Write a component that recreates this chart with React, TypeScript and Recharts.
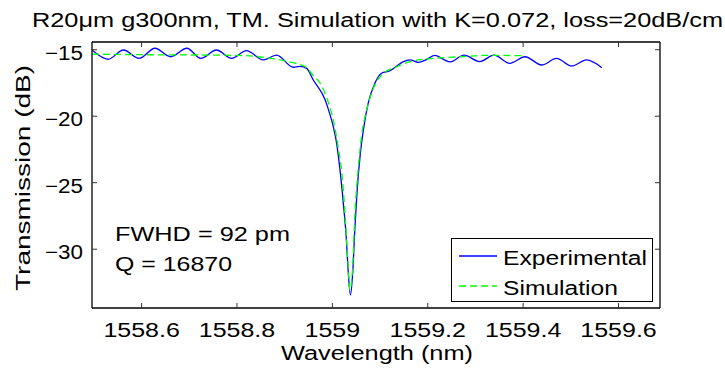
import { LineChart, Line, XAxis, YAxis, Legend, Customized } from 'recharts';

const FONT = '"Liberation Sans", Arial, Helvetica, sans-serif';

// measured ring resonance (blue) and fitted simulation (green)
const expWavelength = [
  1558.496, 1558.53, 1558.562, 1558.595, 1558.628, 1558.661, 1558.695, 1558.724, 1558.757, 1558.789,
  1558.82, 1558.855, 1558.883, 1558.918, 1558.932, 1558.946, 1558.96, 1558.985, 1558.991, 1559.002,
  1559.009, 1559.016, 1559.023, 1559.029, 1559.033, 1559.038, 1559.043, 1559.047, 1559.052, 1559.058,
  1559.065, 1559.075, 1559.089, 1559.103, 1559.121, 1559.135, 1559.149, 1559.163, 1559.18, 1559.198,
  1559.215, 1559.233, 1559.247, 1559.276, 1559.309, 1559.339, 1559.372, 1559.404, 1559.439, 1559.47,
  1559.502, 1559.533, 1559.565,
];
const expTransmission = [
  -15.02, -15.72, -15.02, -15.65, -14.89, -15.53, -14.89, -15.65, -15.02, -15.65,
  -15.07, -15.77, -15.4, -16.32, -16.26, -16.4, -17.28, -18.78, -19.41, -20.79,
  -22.04, -24.04, -26.55, -29.06, -31.56, -33.44, -31.56, -28.56, -25.55, -23.04,
  -21.04, -19.03, -17.53, -16.77, -16.58, -16.22, -15.9, -15.77, -15.95, -15.72,
  -15.42, -15.72, -15.92, -15.41, -15.89, -15.41, -16.02, -15.53, -16.15, -15.65,
  -16.22, -15.77, -16.35,
];
const simWavelength = [
  1558.496, 1558.618, 1558.722, 1558.806, 1558.862, 1558.901, 1558.925, 1558.946, 1558.96, 1558.974,
  1558.991, 1559.002, 1559.012, 1559.02, 1559.026, 1559.032, 1559.037, 1559.043, 1559.047, 1559.054,
  1559.061, 1559.072, 1559.086, 1559.107, 1559.135, 1559.163, 1559.212, 1559.268, 1559.323, 1559.4,
];
const simTransmission = [
  -15.33, -15.38, -15.4, -15.43, -15.6, -15.85, -16.05, -16.35, -16.95, -17.5,
  -18.9, -20.28, -22.29, -24.29, -27.05, -30.56, -33.07, -31.06, -27.56, -24.04,
  -21.54, -19.53, -17.9, -16.77, -16.28, -15.9, -15.65, -15.53, -15.42, -15.45,
];

const xTicks = [1558.6, 1558.8, 1559, 1559.2, 1559.4, 1559.6];
const yTicks = [-30, -25, -20, -15];
const xDomain = [1558.496, 1559.687];
const yDomain = [-34.42, -14.42];

const expData = expWavelength.map((x, i) => ({ x, y: expTransmission[i] }));
const simData = simWavelength.map((x, i) => ({ x, y: simTransmission[i] }));

const TICK_COLOR = '#333';

function BottomTick({ x, y, payload }: any) {
  return (
    <g>
      <line x1={x} y1={y} x2={x} y2={y - 5} stroke={TICK_COLOR} />
      <text
        transform={`translate(${x} ${y + 29}) scale(1.25 1)`}
        textAnchor="middle"
        fontFamily={FONT}
        fontSize={20}
        fill="#000"
      >
        {String(payload.value)}
      </text>
    </g>
  );
}

function TopTick({ x, y }: any) {
  return <line x1={x} y1={y} x2={x} y2={y + 5} stroke={TICK_COLOR} />;
}

function LeftTick({ x, y, payload }: any) {
  return (
    <g>
      <line x1={x} y1={y} x2={x + 5} y2={y} stroke={TICK_COLOR} />
      <text
        x={x - 9}
        y={y + 10}
        textAnchor="end"
        fontFamily={FONT}
        fontSize={20}
        fill="#000"
        textLength={38}
        lengthAdjust="spacingAndGlyphs"
      >
        {String(payload.value).replace('-', '\u2212')}
      </text>
    </g>
  );
}

function RightTick({ x, y }: any) {
  return <line x1={x} y1={y} x2={x - 5} y2={y} stroke={TICK_COLOR} />;
}

function Annotations() {
  const t = { fontFamily: FONT, fontSize: 20, fill: '#000', lengthAdjust: 'spacingAndGlyphs' as const };
  return (
    <g>
      <text {...t} x={377.5} y={27} textAnchor="middle" textLength={691}>
        R20μm g300nm, TM. Simulation with K=0.072, loss=20dB/cm
      </text>
      <text {...t} x={377} y={360} textAnchor="middle" textLength={192}>
        Wavelength (nm)
      </text>
      <text {...t} transform="translate(30 178) rotate(-90)" textAnchor="middle" textLength={226}>
        Transmission (dB)
      </text>
      <text {...t} x={115} y={241} textLength={175}>
        FWHD = 92 pm
      </text>
      <text {...t} x={115} y={271} textLength={117}>
        Q = 16870
      </text>
    </g>
  );
}

function LegendBox() {
  return (
    <div
      style={{
        width: 202,
        height: 64,
        boxSizing: 'border-box',
        border: '1.3px solid #000',
        background: '#fff',
      }}
    >
      <svg width={200} height={62} style={{ display: 'block' }}>
        <line x1={7} y1={17} x2={45} y2={17} stroke="#0000ff" strokeWidth={1.3} />
        <line x1={7} y1={47} x2={45} y2={47} stroke="#00ff00" strokeWidth={1.3} strokeDasharray="7 4" />
        <text x={51} y={26} fontFamily={FONT} fontSize={20} textLength={144} lengthAdjust="spacingAndGlyphs">
          Experimental
        </text>
        <text x={51} y={56} fontFamily={FONT} fontSize={20} textLength={115} lengthAdjust="spacingAndGlyphs">
          Simulation
        </text>
      </svg>
    </div>
  );
}

export default function App() {
  return (
    <div style={{ position: 'absolute', left: 0, top: 0, width: 725, height: 371, background: '#fff' }}>
      <LineChart width={725} height={371} margin={{ top: 0, right: 0, bottom: 0, left: 0 }}>
        <XAxis
          type="number"
          dataKey="x"
          domain={xDomain}
          allowDataOverflow
          ticks={xTicks}
          interval={0}
          height={63}
          tickSize={0}
          tickMargin={0}
          tick={<BottomTick />}
          axisLine={{ stroke: '#000', strokeWidth: 1.3 }}
        />
        <XAxis
          xAxisId="top"
          orientation="top"
          type="number"
          dataKey="x"
          domain={xDomain}
          allowDataOverflow
          ticks={xTicks}
          interval={0}
          height={42}
          tickSize={0}
          tickMargin={0}
          tick={<TopTick />}
          axisLine={{ stroke: '#000', strokeWidth: 1.3 }}
        />
        <YAxis
          type="number"
          domain={yDomain}
          allowDataOverflow
          ticks={yTicks}
          interval={0}
          width={92}
          tickSize={0}
          tickMargin={0}
          tick={<LeftTick />}
          axisLine={{ stroke: '#000', strokeWidth: 1.3 }}
        />
        <YAxis
          yAxisId="right"
          orientation="right"
          type="number"
          domain={yDomain}
          allowDataOverflow
          ticks={yTicks}
          interval={0}
          width={65}
          tickSize={0}
          tickMargin={0}
          tick={<RightTick />}
          axisLine={{ stroke: '#000', strokeWidth: 1.3 }}
        />
        <Line
          data={expData}
          dataKey="y"
          type="monotone"
          stroke="#0000ff"
          strokeWidth={1.3}
          dot={false}
          isAnimationActive={false}
        />
        <Line
          data={simData}
          dataKey="y"
          type="monotone"
          stroke="#00ff00"
          strokeWidth={1.3}
          strokeDasharray="7 4"
          dot={false}
          isAnimationActive={false}
        />
        <Legend
          layout="vertical"
          align="center"
          verticalAlign="middle"
          wrapperStyle={{ left: 451, top: 238, width: 202, height: 64 }}
          content={() => <LegendBox />}
        />
        <Customized component={<Annotations />} />
      </LineChart>
    </div>
  );
}
